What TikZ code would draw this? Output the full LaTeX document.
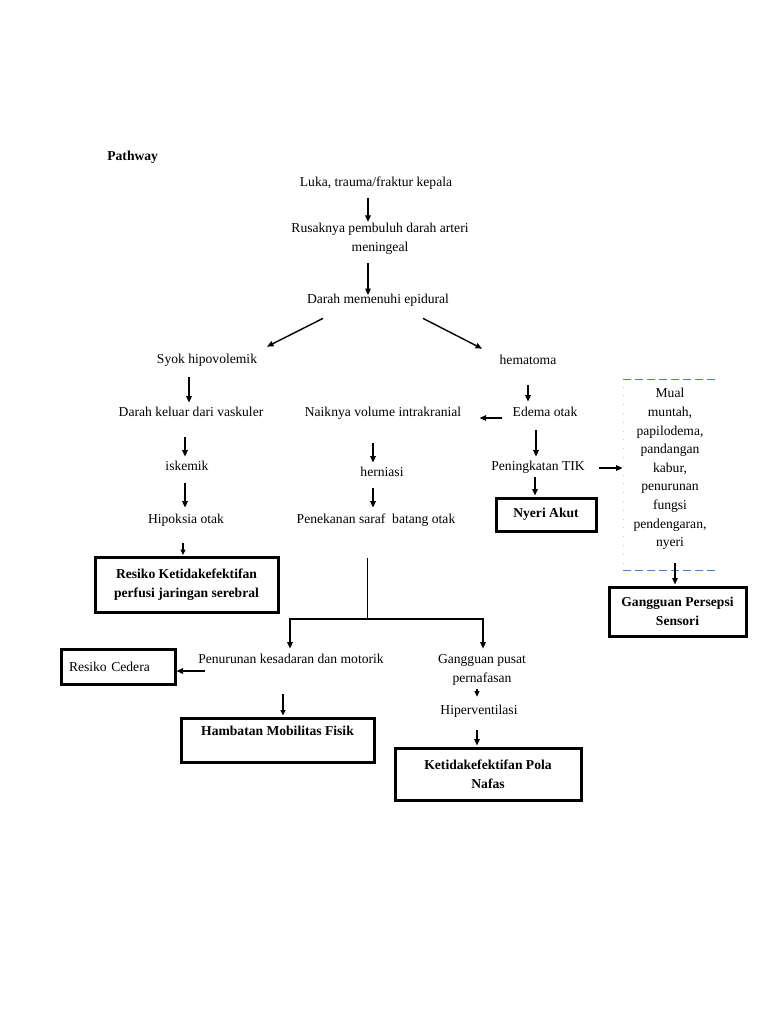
\documentclass[tikz,border=0pt]{standalone}
\usepackage{fontspec}
\setmainfont{Liberation Serif}
\usetikzlibrary{arrows.meta,calc}

\definecolor{dashblue}{RGB}{79,129,189}
\tikzset{every picture/.style={line width=0.75pt},
  lbl/.style={inner sep=0pt, text height=10pt, text depth=3pt},
  lbl2/.style={inner sep=0pt, align=center},
  dxbox/.style={draw, line width=3pt, inner sep=0pt, align=center, font=\fontsize{13.6}{19}\selectfont\bfseries},
  arr/.style={line width=1.4pt, -{Triangle[length=6.5pt,width=5.5pt]}},
  thinarr/.style={line width=1.1pt, -{Triangle[length=5.5pt,width=5pt]}}
}

\begin{document}
\begin{tikzpicture}[x=1pt,y=1pt,yscale=-1,xscale=1,font=\fontsize{13.6}{19}\selectfont]
\useasboundingbox (0,0) rectangle (768,1024);

% Text Node
\node[lbl, anchor=west, font=\fontsize{13.6}{19}\selectfont\bfseries] (title) at (107,157) {Pathway};
% Text Node
\node[lbl] (luka) at (376,183) {Luka, trauma/fraktur kepala};
% Text Node
\node[lbl2] (rusak) at (380,239) {Rusaknya pembuluh darah arteri\\meningeal};
% Text Node
\node[lbl] (epid) at (378,300) {Darah memenuhi epidural};
% Text Node
\node[lbl] (syok) at (207,360) {Syok hipovolemik};
% Text Node
\node[lbl] (hema) at (528,361) {hematoma};
% Text Node
\node[lbl] (darah) at (191,413) {Darah keluar dari vaskuler};
% Text Node
\node[lbl] (naik) at (383,413) {Naiknya volume intrakranial};
% Text Node
\node[lbl] (edema) at (545,413) {Edema otak};
% Text Node
\node[lbl] (iskemik) at (187,467) {iskemik};
% Text Node
\node[lbl] (hernia) at (382,473) {herniasi};
% Text Node
\node[lbl] (tik) at (538,467) {Peningkatan TIK};
% Text Node
\node[lbl] (hipoksia) at (186,520) {Hipoksia otak};
% Text Node
\node[lbl] (tekan) at (376,520) {Penekanan saraf\ \ batang otak};
% Text Node
\node[lbl] (turun) at (291,660) {Penurunan kesadaran dan motorik};
% Text Node
\node[lbl2] (pusat) at (482,669.5) {Gangguan pusat\\pernafasan};
% Text Node
\node[lbl] (hiper) at (479,711) {Hiperventilasi};

%Shape: Boxes
\node[dxbox, minimum width=100, minimum height=33] (nyeri) at (546,514.5) {Nyeri Akut};
\node[dxbox, minimum width=137, minimum height=49] (persepsi) at (677.5,611.5) {Gangguan Persepsi\\Sensori};
\node[dxbox, minimum width=183, minimum height=55] (resiko) at (186.5,585) {Resiko Ketidakefektifan\\perfusi jaringan serebral};
\node[dxbox, font=\fontsize{13.6}{19}\selectfont, text width=98, align=left, inner xsep=8pt, minimum height=35] (cedera) at (118,666.5) {Resiko Cedera};
\node[dxbox, minimum width=193, minimum height=44] (hambatan) at (277.5,740) {Hambatan Mobilitas Fisik\\\mbox{}};
\node[dxbox, minimum width=186, minimum height=52] (pola) at (488,774) {Ketidakefektifan Pola\\Nafas};

%Shape: Dashed frame
\node[minimum width=94, minimum height=190, inner sep=0pt] (mualbox) at (670,475) {};
\draw[dashblue, line width=1.1pt, dash pattern=on 8pt off 4pt] (mualbox.north west) -- (mualbox.north east);
\draw[dashblue, line width=1.1pt, dash pattern=on 8pt off 4pt] (mualbox.south west) -- (mualbox.south east);
\draw[gray!45, line width=0.8pt, dash pattern=on 0.8pt off 8pt] ($(mualbox.north west)+(1,7)$) -- ($(mualbox.south west)+(1,-6)$);
% Text Node
\node[lbl2, font=\fontsize{13.6}{18.6}\selectfont] (mual) at (670,469) {Mual\\muntah,\\papilodema,\\pandangan\\kabur,\\penurunan\\fungsi\\pendengaran,\\nyeri};

%Straight Lines
\draw[arr] ($(luka.south)+(-8,8)$) -- ($(rusak.north)+(-12,-1)$);
\draw[arr] ($(rusak.south)+(-12,8)$) -- ($(epid.north)+(-10,2)$);
\draw[arr] ($(epid.south)+(-55,11.5)$) -- ($(syok.north)+(60,-6.5)$);
\draw[arr] ($(epid.south)+(45,11.5)$) -- ($(hema.north)+(-46,-5.5)$);
\draw[arr] ($(syok.south)+(-18,10.5)$) -- ($(darah.north)+(-2,-3.5)$);
\draw[arr] ($(hema.south)+(0,17.5)$) -- ($(edema.north)+(-17,-4.5)$);
\draw[arr] ($(edema.west)+(-10,5)$) -- ($(naik.east)+(18,5)$);
\draw[arr] ($(darah.south)+(-6,17.5)$) -- ($(iskemik.north)+(-2,-3.5)$);
\draw[arr] ($(naik.south)+(-10,23.5)$) -- ($(hernia.north)+(-9,-3.5)$);
\draw[arr] ($(edema.south)+(-9,10.5)$) -- ($(tik.north)+(-2,-3.5)$);
\draw[arr] ($(iskemik.south)+(-2,9.5)$) -- ($(hipoksia.north)+(-1,-5.5)$);
\draw[arr] ($(hernia.south)+(-9,8.5)$) -- ($(tekan.north)+(-3,-5.5)$);
\draw[arr] ($(tik.south)+(-3,3.5)$) -- ($(nyeri.north)+(-11,-1)$);
\draw[arr] ($(tik.east)+(14,1)$) -- ($(mualbox.west)+(0,-7)$);
\draw[arr] ($(mualbox.south)+(5,-7)$) -- ($(persepsi.north)+(-2.5,-1)$);
\draw[thinarr] ($(hipoksia.south)+(-3,16.5)$) -- ($(resiko.north)+(-3.5,-1)$);

%Straight Lines: fork
\coordinate (forktop) at (367,558);
\coordinate (fork) at (367,619);
\draw[line width=0.9pt] (forktop) -- (fork);
\draw[arr] (fork) -| ($(turun.north)+(-1,-4.5)$);
\draw[arr] (fork) -| ($(pusat.north)+(1,-5)$);

\draw[arr] ($(turun.west)+(7,11)$) -- ($(cedera.east)+(0,4.5)$);
\draw[thinarr] ($(turun.south)+(-8,27.5)$) -- ($(hambatan.north)+(5.5,-1)$);
\draw[thinarr] ($(pusat.south)+(-5,4)$) -- ($(hiper.north)+(-2,-7.5)$);
\draw[arr] ($(hiper.south)+(-2,12.5)$) -- ($(pola.north)+(-11,-1)$);

\end{tikzpicture}
\end{document}
